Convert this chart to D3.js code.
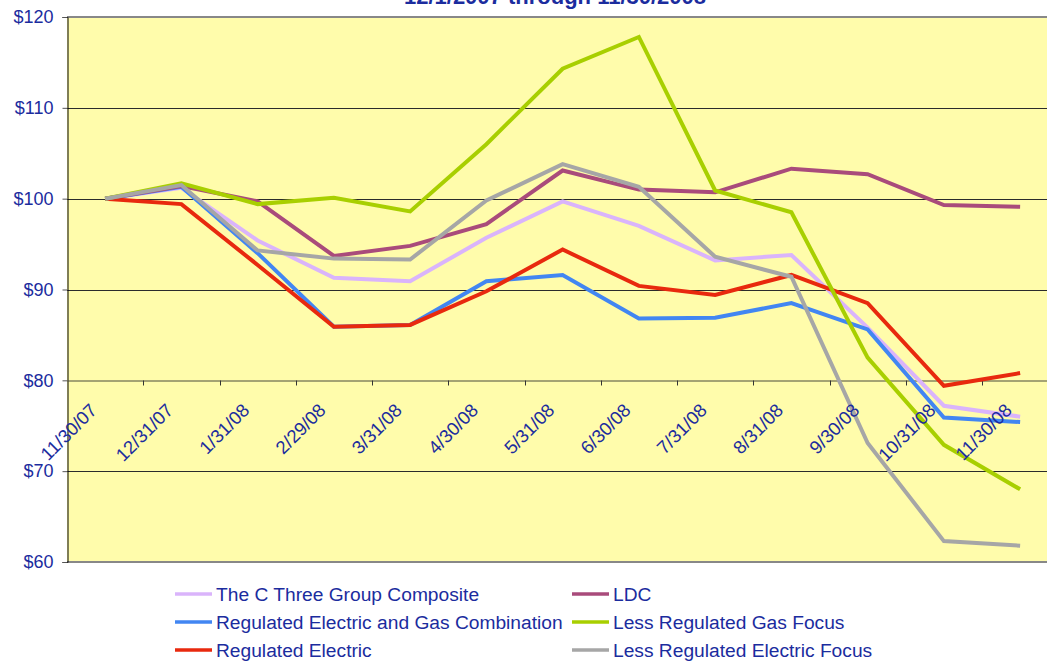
<!DOCTYPE html>
<html>
<head>
<meta charset="utf-8">
<script src="https://cdn.jsdelivr.net/npm/d3@7"></script>
<style>
  body { margin: 0; background: #fff; overflow: hidden; }
  svg { display: block; font-family: "Liberation Sans", Arial, sans-serif; }
</style>
</head>
<body>
<svg id="chart" width="1047" height="665"></svg>
<script>
// month-end dates (category axis)
var dates = ["11/30/07", "12/31/07", "1/31/08", "2/29/08", "3/31/08", "4/30/08", "5/31/08",
             "6/30/08", "7/31/08", "8/31/08", "9/30/08", "10/31/08", "11/30/08"];

// index values ($100 start)
var composite   = [100, 101.2, 95.4, 91.3, 90.9, 95.7, 99.7, 97.0, 93.2, 93.8, 85.8, 77.2, 76.0];
var ldc         = [100, 101.4, 99.7, 93.7, 94.8, 97.2, 103.1, 101.0, 100.7, 103.3, 102.7, 99.3, 99.1];
var regElecGas  = [100, 101.3, 94.0, 85.9, 86.1, 90.9, 91.6, 86.8, 86.9, 88.5, 85.6, 75.9, 75.4];
var lessRegGas  = [100, 101.7, 99.4, 100.1, 98.6, 106.0, 114.3, 117.8, 100.9, 98.5, 82.5, 72.9, 68.0];
var regElec     = [100, 99.4, 92.7, 85.9, 86.1, 89.8, 94.4, 90.4, 89.4, 91.6, 88.5, 79.4, 80.8];
var lessRegElec = [100, 101.5, 94.3, 93.4, 93.3, 99.8, 103.8, 101.3, 93.6, 91.4, 73.1, 62.3, 61.8];

var yTicks = [60, 70, 80, 90, 100, 110, 120];

var series = [
  { name: "The C Three Group Composite", values: composite, color: "#dab4fb" },
  { name: "LDC", values: ldc, color: "#a94b7b" },
  { name: "Regulated Electric and Gas Combination", values: regElecGas, color: "#4286f2" },
  { name: "Less Regulated Gas Focus", values: lessRegGas, color: "#a8cf00" },
  { name: "Regulated Electric", values: regElec, color: "#e8290e" },
  { name: "Less Regulated Electric Focus", values: lessRegElec, color: "#a6a6a6" }
];
// drawing order (back to front) roughly as in the original
var drawOrder = [0, 2, 4, 1, 3, 5];

var txtColor = "#1b2c9e";
var svg = d3.select("#chart");

var plotL = 67, plotT = 17, plotB = 562;
var bandW = 76.25;
var plotR = plotL + bandW * dates.length; // runs off the right edge like the original

var x = d3.scaleBand().domain(dates).range([plotL, plotR]);
var y = d3.scaleLinear().domain([60, 120]).range([plotB, plotT]);

// title (cropped at top)
svg.append("text")
  .attr("x", 555).attr("y", 4)
  .attr("text-anchor", "middle")
  .attr("font-size", "22px").attr("font-weight", "bold")
  .attr("fill", txtColor)
  .text("12/1/2007 through 11/30/2008");

// plot background
svg.append("rect")
  .attr("x", plotL).attr("y", plotT)
  .attr("width", plotR - plotL).attr("height", plotB - plotT)
  .attr("fill", "#fffcab");

// gridlines
svg.append("g").selectAll("line")
  .data(yTicks.filter(function(d) { return d != 60 && d != 120 && d != 80; }))
  .enter().append("line")
  .attr("x1", plotL).attr("x2", plotR)
  .attr("y1", function(d) { return Math.round(y(d)) + 0.5; })
  .attr("y2", function(d) { return Math.round(y(d)) + 0.5; })
  .attr("stroke", "#2b2b2b").attr("stroke-width", 1);

// top / bottom frame
[60, 120].forEach(function(v) {
  svg.append("line")
    .attr("x1", plotL).attr("x2", plotR)
    .attr("y1", Math.round(y(v))).attr("y2", Math.round(y(v)))
    .attr("stroke", "#888").attr("stroke-width", 2);
});

// y axis
var yAxis = d3.axisLeft(y).tickValues(yTicks).tickSize(5)
  .tickFormat(function(d) { return "$" + d; });
var gy = svg.append("g")
  .attr("transform", "translate(" + (plotL + 0.5) + ",0)")
  .call(yAxis);
gy.select(".domain").attr("stroke", "#000");
gy.selectAll(".tick line").attr("stroke", "#555");
gy.selectAll(".tick text")
  .attr("x", -14)
  .attr("fill", txtColor)
  .attr("font-size", "18px")
  .attr("font-family", "Liberation Sans, Arial, sans-serif");

// category axis crossing at $80
var ax = Math.round(y(80)) + 0.5;
var xAxis = d3.axisBottom(x).tickSize(0).tickFormat("");
var gx = svg.append("g")
  .attr("transform", "translate(0," + ax + ")")
  .call(xAxis);
gx.select(".domain").attr("stroke", "#4a4a3a");
// tick marks between categories
gx.selectAll("line.sep")
  .data(dates.slice(1))
  .enter().append("line")
  .attr("class", "sep")
  .attr("x1", function(d) { return Math.round(x(d)) + 0.5; })
  .attr("x2", function(d) { return Math.round(x(d)) + 0.5; })
  .attr("y1", 0).attr("y2", 5)
  .attr("stroke", "#333");

// series lines
var line = d3.line()
  .x(function(d, i) { return x(dates[i]) + x.bandwidth() / 2; })
  .y(function(d) { return y(d); });

svg.append("g").selectAll("path")
  .data(drawOrder.map(function(i) { return series[i]; }))
  .enter().append("path")
  .attr("d", function(s) { return line(s.values); })
  .attr("fill", "none")
  .attr("stroke", function(s) { return s.color; })
  .attr("stroke-width", 4)
  .attr("stroke-linejoin", "miter");

// rotated category labels (on top of the lines, as in the original)
svg.append("g").selectAll("text")
  .data(dates)
  .enter().append("text")
  .attr("transform", function(d) {
    var cx = x(d) + x.bandwidth() / 2 - 7;
    return "translate(" + cx + "," + (ax + 31) + ") rotate(-45)";
  })
  .attr("text-anchor", "end")
  .attr("font-size", "18.5px")
  .attr("fill", txtColor)
  .text(function(d) { return d; });

// legend, two columns
var legCols = [175, 572];
var legRows = [594, 622, 650];
var leg = svg.append("g").selectAll("g")
  .data(series)
  .enter().append("g")
  .attr("transform", function(d, i) {
    return "translate(" + legCols[i % 2] + "," + legRows[Math.floor(i / 2)] + ")";
  });
leg.append("line")
  .attr("x1", 0).attr("x2", 37)
  .attr("y1", 0).attr("y2", 0)
  .attr("stroke", function(d) { return d.color; })
  .attr("stroke-width", 3.5);
leg.append("text")
  .attr("x", 41).attr("y", 7)
  .attr("font-size", "19.2px")
  .attr("fill", txtColor)
  .text(function(d) { return d.name; });
</script>
</body>
</html>
